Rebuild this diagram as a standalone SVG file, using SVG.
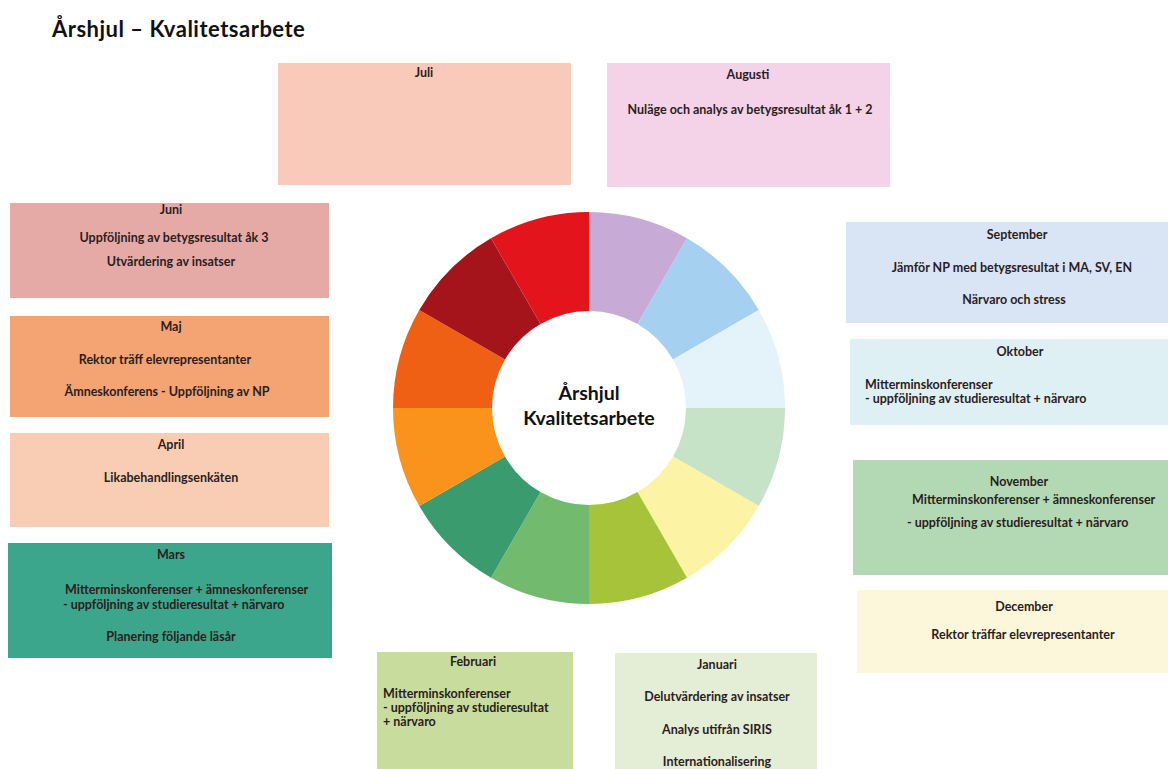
<svg xmlns="http://www.w3.org/2000/svg" width="1168" height="769" viewBox="0 0 1168 769">
<style>
text{font-family:Lato,"Liberation Sans",sans-serif;fill:#2b1d1d}
.h{font-size:12.5px;font-weight:700;text-anchor:middle}
.b{font-size:12.5px;font-weight:700;text-anchor:middle}
.l{font-size:12.5px;font-weight:700;text-anchor:start}
.title{font-size:22px;font-weight:700;fill:#111;letter-spacing:0.5px}
.ct{font-size:19.5px;font-weight:700;text-anchor:middle;fill:#111}
</style>
<rect width="1168" height="769" fill="#fff"/>
<text class="title" x="52" y="37">Årshjul – Kvalitetsarbete</text>

<g id="wheel">
<path d="M589 212A196 196 0 0 1 687 238.26L637.5 324A97 97 0 0 0 589 311Z" fill="#c8aad7"/>
<path d="M687 238.26A196 196 0 0 1 758.74 310L673 359.5A97 97 0 0 0 637.5 324Z" fill="#a5d0f0"/>
<path d="M758.74 310A196 196 0 0 1 785 408L686 408A97 97 0 0 0 673 359.5Z" fill="#e4f2fa"/>
<path d="M785 408A196 196 0 0 1 758.74 506L673 456.5A97 97 0 0 0 686 408Z" fill="#c6e3c7"/>
<path d="M758.74 506A196 196 0 0 1 687 577.74L637.5 492A97 97 0 0 0 673 456.5Z" fill="#fcf3a4"/>
<path d="M687 577.74A196 196 0 0 1 589 604L589 505A97 97 0 0 0 637.5 492Z" fill="#a6c33a"/>
<path d="M589 604A196 196 0 0 1 491 577.74L540.5 492A97 97 0 0 0 589 505Z" fill="#72bb6e"/>
<path d="M491 577.74A196 196 0 0 1 419.26 506L505 456.5A97 97 0 0 0 540.5 492Z" fill="#3a9c6e"/>
<path d="M419.26 506A196 196 0 0 1 393 408L492 408A97 97 0 0 0 505 456.5Z" fill="#f9931c"/>
<path d="M393 408A196 196 0 0 1 419.26 310L505 359.5A97 97 0 0 0 492 408Z" fill="#ef5f14"/>
<path d="M419.26 310A196 196 0 0 1 491 238.26L540.5 324A97 97 0 0 0 505 359.5Z" fill="#a5141a"/>
<path d="M491 238.26A196 196 0 0 1 589 212L589 311A97 97 0 0 0 540.5 324Z" fill="#e3141c"/>
<text class="ct" x="589" y="400">Årshjul</text>
<text class="ct" x="589" y="425">Kvalitetsarbete</text>
</g>

<g id="juli">
<rect x="278" y="63" width="293" height="122" fill="#f9c9ba"/>
<text class="h" x="424" y="77">Juli</text>
</g>

<g id="augusti">
<rect x="607" y="63" width="283" height="124" fill="#f4d2e8"/>
<text class="h" x="748" y="79">Augusti</text>
<text class="b" x="750" y="114">Nuläge och analys av betygsresultat åk 1 + 2</text>
</g>

<g id="juni">
<rect x="10" y="203" width="319" height="95" fill="#e6aaa6"/>
<text class="h" x="171" y="214">Juni</text>
<text class="b" x="174" y="242">Uppföljning av betygsresultat åk 3</text>
<text class="b" x="171" y="266">Utvärdering av insatser</text>
</g>

<g id="maj">
<rect x="10" y="316" width="319" height="101" fill="#f3a472"/>
<text class="h" x="171" y="331">Maj</text>
<text class="b" x="165" y="364">Rektor träff elevrepresentanter</text>
<text class="b" x="167" y="396">Ämneskonferens - Uppföljning av NP</text>
</g>

<g id="april">
<rect x="10" y="433" width="319" height="94" fill="#f8cdb3"/>
<text class="h" x="171" y="449">April</text>
<text class="b" x="171" y="482">Likabehandlingsenkäten</text>
</g>

<g id="mars">
<rect x="8" y="543" width="324" height="115" fill="#3ba68c"/>
<text class="h" x="171" y="559">Mars</text>
<text class="l" x="65" y="594">Mitterminskonferenser + ämneskonferenser</text>
<text class="l" x="63" y="609">- uppföljning av studieresultat + närvaro</text>
<text class="b" x="171" y="641">Planering följande läsår</text>
</g>

<g id="februari">
<rect x="377" y="652" width="196" height="117" fill="#c8dc9d"/>
<text class="h" x="473" y="666">Februari</text>
<text class="l" x="383" y="698">Mitterminskonferenser</text>
<text class="l" x="383" y="712">- uppföljning av studieresultat</text>
<text class="l" x="383" y="726">+ närvaro</text>
</g>

<g id="januari">
<rect x="615" y="653" width="202" height="116" fill="#e4edd6"/>
<text class="h" x="717" y="669">Januari</text>
<text class="b" x="717" y="701">Delutvärdering av insatser</text>
<text class="b" x="717" y="734">Analys utifrån SIRIS</text>
<text class="b" x="717" y="766">Internationalisering</text>
</g>

<g id="september">
<rect x="846" y="222" width="322" height="101" fill="#d9e5f4"/>
<text class="h" x="1017" y="239">September</text>
<text class="b" x="1012" y="272">Jämför NP med betygsresultat i MA, SV, EN</text>
<text class="b" x="1014" y="304">Närvaro och stress</text>
</g>

<g id="oktober">
<rect x="850" y="339" width="318" height="86" fill="#dff0f4"/>
<text class="h" x="1020" y="356">Oktober</text>
<text class="l" x="865" y="389">Mitterminskonferenser</text>
<text class="l" x="865" y="403">- uppföljning av studieresultat + närvaro</text>
</g>

<g id="november">
<rect x="853" y="460" width="315" height="115" fill="#b3d9b4"/>
<text class="h" x="1019" y="486">November</text>
<text class="l" x="912" y="504">Mitterminskonferenser + ämneskonferenser</text>
<text class="l" x="907" y="527">- uppföljning av studieresultat + närvaro</text>
</g>

<g id="december">
<rect x="857" y="590" width="311" height="83" fill="#fcf7da"/>
<text class="h" x="1024" y="611">December</text>
<text class="b" x="1023" y="639">Rektor träffar elevrepresentanter</text>
</g>

<g id="connectors"/>
</svg>
